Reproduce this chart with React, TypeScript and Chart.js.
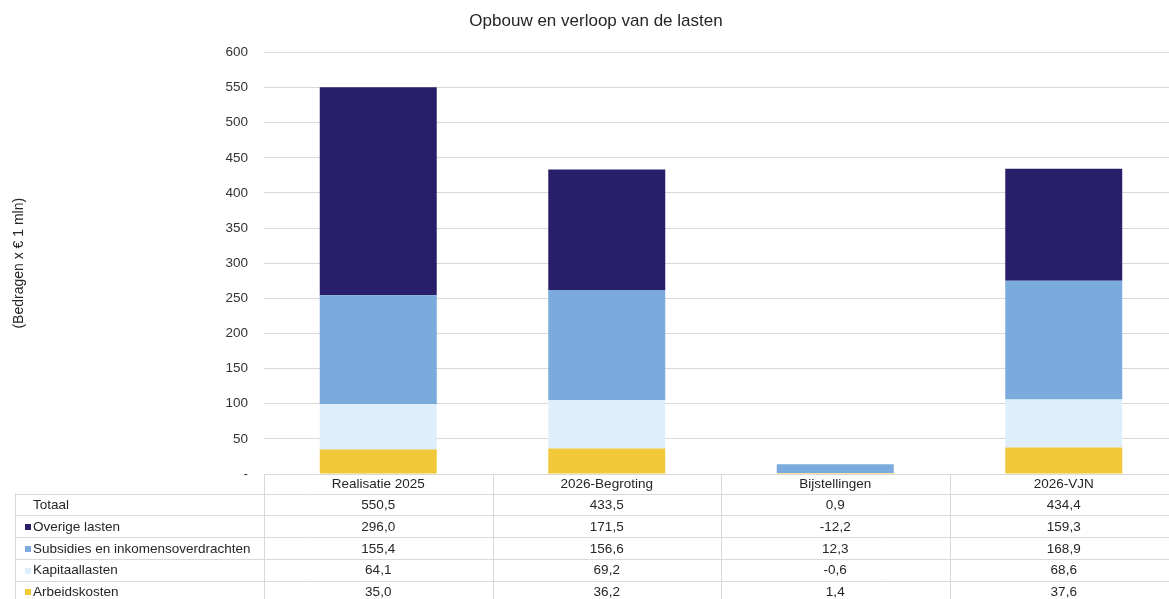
import React, { useEffect, useRef } from 'react';
import { Chart, registerables } from 'chart.js';

Chart.register(...registerables);

const titleText = 'Opbouw en verloop van de lasten';
const yAxisTitle = '(Bedragen x € 1 mln)';
const categories = ['Realisatie 2025', '2026-Begroting', 'Bijstellingen', '2026-VJN'];
const totaal = [550.5, 433.5, 0.9, 434.4];
const overigeLasten = [296.0, 171.5, -12.2, 159.3];
const subsidies = [155.4, 156.6, 12.3, 168.9];
const kapitaallasten = [64.1, 69.2, -0.6, 68.6];
const arbeidskosten = [35.0, 36.2, 1.4, 37.6];
const yMin = 0;
const yMax = 600;
const yStep = 50;

const COLORS = {
  overige: '#271f69',
  subsidies: '#7aabdc',
  kapitaal: '#deeefb',
  arbeid: '#f0c83a',
};

const FONT = '"Liberation Sans", Arial, sans-serif';
const TEXT = '#262626';
const GRID = '#d9d9d9';

const fmt = (v: number) => v.toFixed(1).replace('.', ',');

const tableRows = [
  { label: 'Totaal', values: totaal, color: null as string | null },
  { label: 'Overige lasten', values: overigeLasten, color: COLORS.overige },
  { label: 'Subsidies en inkomensoverdrachten', values: subsidies, color: COLORS.subsidies },
  { label: 'Kapitaallasten', values: kapitaallasten, color: COLORS.kapitaal },
  { label: 'Arbeidskosten', values: arbeidskosten, color: COLORS.arbeid },
];

const tablePlugin = {
  id: 'dataTable',
  afterDraw(chart: any) {
    const { ctx, chartArea } = chart;
    const xs = chart.scales.x;
    const n = categories.length;
    const top = chartArea.bottom;
    const headerH = 19.5;
    const rowH = 21.75;
    const tableLeft = 15;
    const bodyTop = top + headerH;
    const bottom = bodyTop + rowH * tableRows.length;
    const px = (v: number) => Math.round(v) + 0.5;

    ctx.save();
    ctx.strokeStyle = GRID;
    ctx.lineWidth = 1;
    ctx.beginPath();
    for (let i = 0; i <= tableRows.length; i++) {
      const y = px(bodyTop + i * rowH);
      ctx.moveTo(tableLeft, y);
      ctx.lineTo(xs.getPixelForValue(n - 0.5), y);
    }
    ctx.moveTo(px(tableLeft), bodyTop);
    ctx.lineTo(px(tableLeft), bottom);
    for (let i = 0; i <= n; i++) {
      const x = px(xs.getPixelForValue(i - 0.5));
      ctx.moveTo(x, top);
      ctx.lineTo(x, bottom);
    }
    ctx.stroke();

    ctx.fillStyle = TEXT;
    ctx.font = `13.5px ${FONT}`;
    ctx.textBaseline = 'middle';
    ctx.textAlign = 'center';
    categories.forEach((c, i) => {
      ctx.fillText(c, xs.getPixelForValue(i), top + headerH / 2 + 1);
    });
    tableRows.forEach((row, r) => {
      const cy = bodyTop + r * rowH + rowH / 2 + 1;
      ctx.textAlign = 'left';
      if (row.color) {
        ctx.fillStyle = row.color;
        ctx.fillRect(25, Math.round(cy - 3), 6, 6);
      }
      ctx.fillStyle = TEXT;
      ctx.fillText(row.label, 33, cy);
      ctx.textAlign = 'center';
      row.values.forEach((v, i) => {
        ctx.fillText(fmt(v), xs.getPixelForValue(i), cy);
      });
    });
    ctx.restore();
  },
};

export default function App() {
  const canvasRef = useRef<HTMLCanvasElement | null>(null);

  useEffect(() => {
    if (!canvasRef.current) return;
    const bar = { barPercentage: 0.512, categoryPercentage: 1, borderWidth: 0 };
    const chart = new Chart(canvasRef.current, {
      type: 'bar',
      data: {
        labels: categories,
        datasets: [
          { label: 'Arbeidskosten', data: arbeidskosten, backgroundColor: COLORS.arbeid, ...bar },
          { label: 'Kapitaallasten', data: kapitaallasten, backgroundColor: COLORS.kapitaal, ...bar },
          { label: 'Subsidies en inkomensoverdrachten', data: subsidies, backgroundColor: COLORS.subsidies, ...bar },
          { label: 'Overige lasten', data: overigeLasten, backgroundColor: COLORS.overige, ...bar },
        ],
      },
      options: {
        responsive: false,
        animation: false,
        devicePixelRatio: 1,
        layout: { padding: { left: 14, right: 12, top: 0, bottom: 136 } },
        plugins: {
          legend: { display: false },
          tooltip: { enabled: false },
          title: {
            display: true,
            text: titleText,
            color: TEXT,
            font: { family: FONT, size: 17, weight: 'normal' },
            padding: { top: 11, bottom: 21 },
          },
        },
        scales: {
          x: {
            stacked: true,
            display: false,
          },
          y: {
            stacked: true,
            min: yMin,
            max: yMax,
            afterFit: (s: any) => {
              s.width = 250;
            },
            ticks: {
              stepSize: yStep,
              padding: 16,
              color: '#333333',
              font: { family: FONT, size: 13.5 },
              callback: (v: any) => (Number(v) === 0 ? '-' : String(v)),
            },
            grid: { color: GRID, drawTicks: false, lineWidth: 1 },
            border: { display: false },
            title: {
              display: true,
              text: yAxisTitle,
              color: TEXT,
              font: { family: FONT, size: 14 },
              padding: { top: -3, bottom: 0 },
            },
          },
        },
      },
      plugins: [tablePlugin],
    });
    return () => chart.destroy();
  }, []);

  return (
    <div
      style={{
        position: 'fixed',
        left: 0,
        top: 0,
        width: 1169,
        height: 599,
        overflow: 'hidden',
        background: '#ffffff',
      }}
    >
      <canvas ref={canvasRef} width={1190} height={610} style={{ display: 'block' }} />
    </div>
  );
}
